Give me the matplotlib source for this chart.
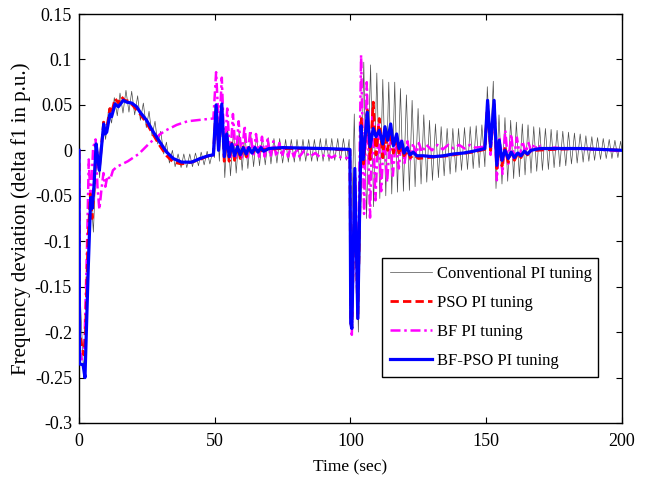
import matplotlib
matplotlib.use("Agg")
import matplotlib.pyplot as plt

plt.rcParams["font.family"] = ["Liberation Serif", "DejaVu Serif"]
plt.rcParams["axes.unicode_minus"] = False

# (time in s, delta f1 in p.u.), one point per turn of the curve
conventional = [
    (0, 0), (0.3, -0.15), (1.0, -0.20), (1.6, -0.24), (2.4, -0.22), (3.2, -0.12),
    (4.3, -0.045), (5.3, -0.09), (6.6, 0.008), (7.6, -0.03), (8.8, 0.032), (9.8, 0.012),
    (10.9, 0.046), (12.0, 0.030), (13.0, 0.058), (14.1, 0.038), (15.1, 0.063), (16.2, 0.041),
    (17.3, 0.066), (18.4, 0.042), (19.4, 0.065), (20.5, 0.039), (21.6, 0.060), (22.6, 0.033),
    (23.7, 0.052), (24.8, 0.025), (25.8, 0.043), (26.9, 0.016), (28.0, 0.032), (29.0, 0.007),
    (30.1, 0.021), (31.2, -0.004), (32.2, 0.009), (33.3, -0.014), (34.4, 0.0), (35.4, -0.018),
    (36.5, -0.004), (37.6, -0.019), (38.6, -0.004), (39.7, -0.019), (40.8, -0.004), (41.8, -0.018),
    (42.9, -0.003), (44.0, -0.017), (45.0, -0.002), (46.1, -0.016), (47.2, -0.001), (48.2, -0.015),
    (49.3, 0.0), (49.9, -0.008),
    (50.7, 0.045), (51.7, -0.012), (52.6, 0.05), (53.7, -0.03), (54.7, 0.028), (55.8, -0.028),
    (56.9, 0.022), (57.9, -0.025), (59.0, 0.02), (60.1, -0.022), (61.1, 0.018), (62.2, -0.02),
    (63.3, 0.017), (64.3, -0.018), (65.4, 0.016), (66.5, -0.017), (67.5, 0.015), (68.6, -0.016),
    (69.7, 0.014), (70.7, -0.015), (71.8, 0.013), (72.9, -0.014), (73.9, 0.013), (75.0, -0.014),
    (76.1, 0.012), (77.1, -0.013), (78.2, 0.012), (79.3, -0.013), (80.3, 0.012), (81.4, -0.012),
    (82.5, 0.012), (83.5, -0.012), (84.6, 0.012), (85.7, -0.012), (86.7, 0.012), (87.8, -0.012),
    (88.9, 0.013), (89.9, -0.012), (91.0, 0.013), (92.1, -0.012), (93.1, 0.013), (94.2, -0.011),
    (95.3, 0.013), (96.3, -0.011), (97.4, 0.013), (98.5, -0.011), (99.5, 0.012),
    (100.2, -0.11), (101.4, 0.04), (102.9, -0.20), (104.9, 0.097), (105.9, -0.075),
    (107.4, 0.094), (108.5, -0.062), (109.7, 0.085), (110.8, -0.053), (111.9, 0.078),
    (113.0, -0.05), (114.1, 0.075), (115.2, -0.048), (116.3, 0.075), (117.3, -0.046),
    (118.4, 0.068), (119.5, -0.045), (120.6, 0.061), (121.7, -0.044), (122.7, 0.055),
    (123.8, -0.04), (124.9, 0.046), (126.0, -0.037), (127.0, 0.039), (128.1, -0.035),
    (129.1, 0.033), (130.2, -0.033), (131.3, 0.029), (132.4, -0.03), (133.4, 0.026),
    (134.5, -0.028), (135.6, 0.024), (136.7, -0.026), (137.7, 0.024), (138.8, -0.024),
    (139.8, 0.024), (140.9, -0.022), (142.0, 0.025), (143.1, -0.021), (144.1, 0.026),
    (145.2, -0.02), (146.3, 0.027), (147.4, -0.019), (148.4, 0.028), (149.5, -0.018),
    (150.4, 0.07), (151.5, 0.0), (152.6, 0.076), (153.6, -0.042), (154.7, 0.039), (155.8, -0.037),
    (156.9, 0.036), (157.9, -0.034), (159.0, 0.033), (160.1, -0.031), (161.1, 0.031), (162.2, -0.029),
    (163.3, 0.029), (164.3, -0.027), (165.4, 0.028), (166.5, -0.025), (167.5, 0.026), (168.6, -0.023),
    (169.7, 0.025), (170.7, -0.022), (171.8, 0.024), (172.9, -0.021), (173.9, 0.023), (175.0, -0.019),
    (176.1, 0.022), (177.1, -0.018), (178.2, 0.021), (179.3, -0.017), (180.3, 0.02), (181.4, -0.015),
    (182.5, 0.019), (183.5, -0.014), (184.6, 0.018), (185.7, -0.013), (186.7, 0.016), (187.8, -0.012),
    (188.9, 0.015), (189.9, -0.011), (191.0, 0.014), (192.1, -0.01), (193.1, 0.013), (194.2, -0.009),
    (195.3, 0.012), (196.3, -0.009), (197.4, 0.011), (198.5, -0.008), (199.5, 0.01), (200, 0.0),
]

pso = [
    (0, 0), (0.2, -0.2), (1.0, -0.215), (1.8, -0.225), (2.4, -0.2), (3.3, -0.1), (4.2, -0.048),
    (4.8, -0.075), (5.5, -0.045), (6.3, 0.005), (7.0, -0.012), (7.5, -0.02), (8.3, 0.006),
    (9.1, 0.031), (9.6, 0.02), (10.2, 0.024), (11.4, 0.046), (12.0, 0.041), (13.3, 0.057),
    (14.5, 0.052), (15.6, 0.059), (16.8, 0.055), (18.5, 0.054), (20.5, 0.047), (22.5, 0.040),
    (24.9, 0.030), (27.4, 0.017), (29.8, 0.005), (32.3, -0.006), (34.7, -0.013), (37.8, -0.015),
    (41.5, -0.013), (44.6, -0.01), (47.6, -0.006), (49.5, -0.005),
    (50.5, 0.048), (51.4, 0.002), (52.6, 0.045), (53.5, -0.012), (54.4, 0.015), (55.3, -0.012),
    (56.3, 0.008), (57.3, -0.011), (58.4, 0.005), (59.4, -0.009), (60.5, 0.004), (61.6, -0.007),
    (62.6, 0.003), (63.7, -0.005), (64.8, 0.002), (66, -0.002), (68, 0.001), (75, 0.002),
    (90, 0.002), (99.8, 0.0),
    (100.1, -0.19), (100.5, -0.195), (101.6, -0.03), (102.7, -0.185), (104.0, 0.035),
    (104.8, -0.015), (106.2, 0.044), (107.2, -0.01), (108.4, 0.053), (109.4, -0.005),
    (110.6, 0.035), (111.9, -0.008), (112.7, 0.022), (113.7, 0.0), (114.8, 0.02), (115.8, -0.003),
    (117.0, 0.012), (117.9, -0.005), (118.9, 0.005), (119.7, -0.006), (121, 0.0), (122, -0.008),
    (123.5, -0.005), (125, -0.009), (128, -0.008), (132, -0.007), (136, -0.006), (140, -0.004),
    (145, -0.002), (149.5, 0.001),
    (150.5, 0.052), (151.6, 0.0), (152.9, 0.052), (153.9, -0.02), (154.8, 0.008), (155.8, -0.017),
    (156.9, 0.002), (158.1, -0.013), (159.2, -0.002), (160.4, -0.011), (161.6, -0.003),
    (162.8, -0.008), (164.0, -0.001), (165.2, -0.005), (166.5, 0.0), (168, 0.0), (175, 0.001),
    (185, 0.002), (200, 0.0),
]

bf = [
    (0, 0), (0.2, -0.22), (1.0, -0.23), (2.0, -0.215), (3.0, -0.1), (3.6, -0.01), (4.3, -0.06),
    (5.2, 0.003), (6.1, 0.012), (6.8, -0.04), (7.5, -0.065), (8.2, -0.045), (9.0, -0.025),
    (9.7, -0.04), (10.5, -0.028), (11.5, -0.032), (12.5, -0.022), (14.0, -0.018), (16.0, -0.015),
    (18, -0.012), (20, -0.008), (22, -0.004), (24, 0.002), (26, 0.008), (28, 0.013), (30, 0.018),
    (32, 0.022), (34, 0.025), (36, 0.028), (38, 0.030), (40, 0.032), (43, 0.033), (46, 0.034),
    (49.5, 0.035),
    (50.5, 0.086), (51.6, 0.02), (52.6, 0.08), (53.6, -0.005), (54.6, 0.046), (55.7, -0.01),
    (56.7, 0.04), (57.8, -0.008), (58.8, 0.032), (59.9, -0.008), (61.0, 0.027), (62.0, -0.008),
    (63.1, 0.022), (64.2, -0.007), (65.2, 0.018), (66.3, -0.007), (67.4, 0.015), (68.4, -0.007),
    (69.5, 0.012), (70.6, -0.007), (71.6, 0.01), (72.7, -0.007), (73.8, 0.008), (74.8, -0.007),
    (75.9, 0.006), (77, -0.007), (78, 0.004), (79.1, -0.007), (80.2, 0.002), (81.2, -0.007),
    (83, 0.0), (85, -0.007), (87, -0.003), (89, -0.008), (91, -0.004), (93, -0.008),
    (95, -0.005), (97, -0.009), (99.8, -0.008),
    (100.1, -0.19), (100.5, -0.203), (101.6, -0.03), (102.6, -0.17), (103.9, 0.105),
    (105.0, -0.07), (106.0, 0.075), (107.2, -0.074), (108.1, 0.045), (109.2, -0.055),
    (110.3, 0.03), (111.3, -0.045), (112.4, 0.02), (113.5, -0.035), (114.6, 0.015),
    (115.6, -0.028), (116.7, 0.012), (117.8, -0.02), (118.8, 0.012), (119.9, -0.014),
    (121.0, 0.01), (122.0, -0.01), (123.1, 0.008), (124.2, -0.005), (125.2, 0.008),
    (126.3, -0.002), (128, 0.006), (130, 0.0), (132, 0.006), (134, 0.001), (136, 0.006),
    (138, 0.002), (140, 0.006), (142, 0.002), (144, 0.006), (146, 0.003), (149.5, 0.004),
    (150.5, 0.05), (151.6, -0.005), (152.9, 0.05), (153.9, -0.033), (154.9, 0.015),
    (156.0, -0.026), (157.0, 0.022), (158.1, -0.015), (159.2, 0.018), (160.2, -0.01),
    (161.3, 0.014), (162.4, -0.006), (163.4, 0.01), (164.5, -0.003), (165.6, 0.008),
    (166.6, -0.001), (167.7, 0.007), (168.8, 0.0), (170, 0.005), (172, 0.001), (175, 0.003),
    (180, 0.002), (190, 0.001), (200, -0.001),
]

bf_pso = [
    (0, 0), (0.2, -0.235), (1.5, -0.236), (2.2, -0.25), (3.4, -0.13), (4.3, -0.052),
    (4.8, -0.064), (5.5, -0.04), (6.3, 0.007), (7.0, -0.011), (7.5, -0.022), (8.3, 0.004),
    (9.1, 0.029), (9.6, 0.018), (10.2, 0.020), (11.4, 0.040), (12.0, 0.037), (13.3, 0.051),
    (14.5, 0.048), (16.3, 0.055), (17.6, 0.053), (19.4, 0.052), (21.2, 0.048), (22.5, 0.042),
    (24.9, 0.033), (27.4, 0.020), (29.8, 0.009), (32.3, -0.002), (34.7, -0.009), (37.8, -0.013),
    (41.5, -0.013), (44.6, -0.009), (47.6, -0.006), (49.5, -0.005),
    (50.5, 0.05), (51.4, 0.0), (52.6, 0.051), (53.5, -0.007), (54.4, 0.018), (55.3, -0.007),
    (56.3, 0.007), (57.3, -0.006), (58.4, 0.004), (59.4, -0.005), (60.5, 0.003), (61.6, -0.004),
    (62.6, 0.003), (63.7, -0.003), (64.8, 0.003), (65.9, -0.002), (67.0, 0.003), (68.0, -0.001),
    (70.0, 0.002), (75.0, 0.003), (90.0, 0.002), (99.8, 0.001),
    (100.1, -0.19), (100.5, -0.196), (101.6, -0.02), (102.7, -0.185), (103.9, 0.027),
    (104.7, -0.01), (106.2, 0.042), (107.2, 0.004), (108.4, 0.024), (109.4, 0.015),
    (110.6, 0.022), (111.9, 0.007), (112.7, 0.026), (113.7, 0.011), (114.8, 0.029),
    (115.8, 0.005), (117.0, 0.018), (117.9, 0.002), (118.9, 0.01), (119.7, -0.003),
    (120.9, 0.003), (121.9, -0.005), (123.1, -0.002), (124.4, -0.006), (126.8, -0.006),
    (130.5, -0.007), (134.2, -0.006), (137.9, -0.004), (141.6, -0.003), (145.2, -0.001),
    (149.5, 0.002),
    (150.5, 0.055), (151.6, 0.004), (152.9, 0.055), (153.9, -0.0165), (154.8, 0.011),
    (155.8, -0.011), (156.9, 0.0), (158.1, -0.009), (159.2, -0.002), (160.4, -0.008),
    (161.6, -0.003), (162.8, -0.006), (164.0, -0.001), (165.2, -0.004), (166.5, 0.0),
    (168, 0.001), (170, 0.002), (185, 0.002), (200, 0.0),
]

labels = ["Conventional PI tuning", "PSO PI tuning", "BF PI tuning", "BF-PSO PI tuning"]
yticks = [-0.3, -0.25, -0.2, -0.15, -0.1, -0.05, 0, 0.05, 0.1, 0.15]
ytick_labels = ["-0.3", "-0.25", "-0.2", "-0.15", "-0.1", "-0.05", "0", "0.05", "0.1", "0.15"]
xticks = [0, 50, 100, 150, 200]

fig = plt.figure(figsize=(6.46, 4.78), dpi=100)
ax = fig.add_axes([0.1223, 0.1151, 0.8405, 0.8556])

def xy(data):
    return [p[0] for p in data], [p[1] for p in data]

ax.plot(*xy(conventional), color="0.3", lw=0.5, label=labels[0], zorder=2)
ax.plot(*xy(pso), color="red", lw=2.0, ls=(0, (3, 1.5)), label=labels[1], zorder=4)
ax.plot(*xy(bf), color="magenta", lw=1.8, ls=(0, (4, 1.5, 1, 1.5)), label=labels[2], zorder=3)
ax.plot(*xy(bf_pso), color="blue", lw=2.3, label=labels[3], zorder=5)

ax.set_xlim(0, 200)
ax.set_ylim(-0.3, 0.15)
ax.set_xticks(xticks)
ax.set_yticks(yticks)
ax.set_yticklabels(ytick_labels)
ax.tick_params(direction="in", top=True, right=True, length=4, width=0.8, labelsize=13)
ax.tick_params(axis="x", pad=7)
ax.tick_params(axis="y", pad=5)
for s in ax.spines.values():
    s.set_linewidth(1.0)

ax.set_xlabel("Time (sec)", fontsize=12.5, labelpad=7)
ax.set_ylabel("Frequency deviation (delta f1 in p.u.)", fontsize=15, labelpad=3)

leg = ax.legend(loc="lower left", bbox_to_anchor=(0.558, 0.112, 0.398, 0.294), mode="expand",
                fontsize=12, fancybox=False, framealpha=1, edgecolor="black",
                handlelength=2.5, handletextpad=0.3, labelspacing=0.78, borderpad=0.5,
                borderaxespad=0)
leg.get_frame().set_linewidth(1.0)

fig.savefig("out.png", dpi=100)
